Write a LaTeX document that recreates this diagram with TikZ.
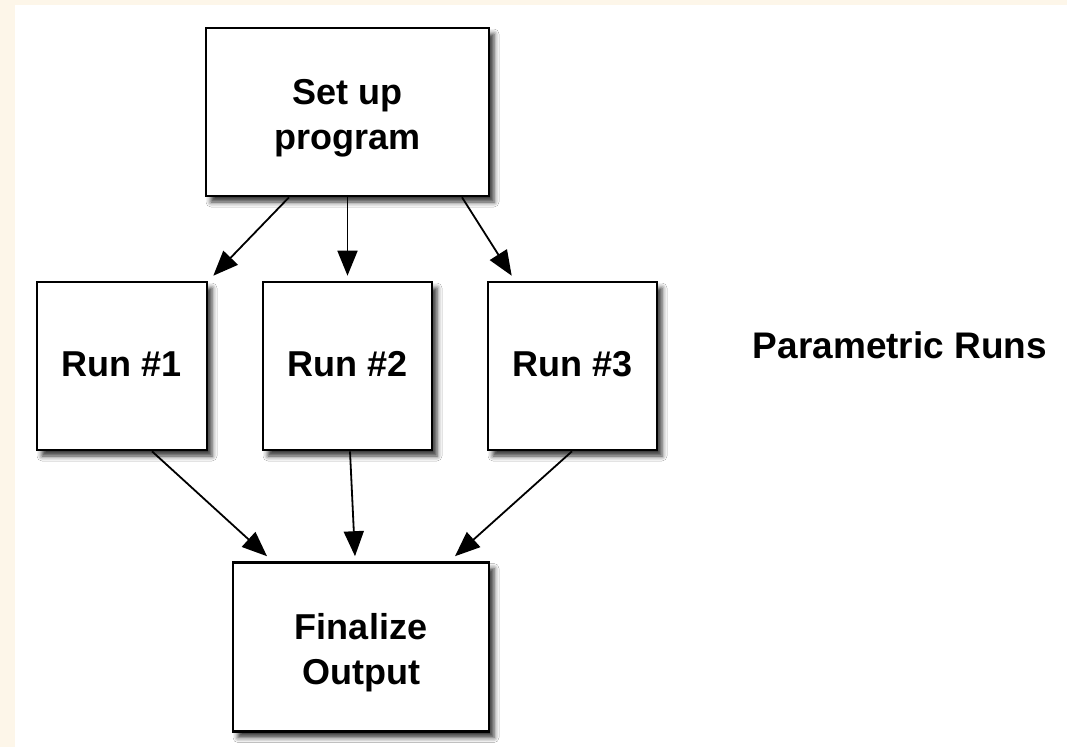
\documentclass[tikz,border=0pt]{standalone}
\usepackage{fontspec}
\setmainfont{Liberation Sans}
\usetikzlibrary{arrows.meta,shadows.blur}
\definecolor{bgbeige}{RGB}{253,246,233}
\tikzset{
  boxnode/.style={draw=black, line width=2.6pt, fill=white, inner sep=0pt,
    align=center, font=\bfseries\fontsize{36}{45}\selectfont,
    blur shadow={shadow xshift=5pt, shadow yshift=-6pt, shadow blur radius=5pt, shadow opacity=80}},
  twoline/.style={text height=82pt},
  oneline/.style={text height=26pt, text depth=6pt},
  flow/.style={line width=1.8pt, -{Triangle[length=25pt,width=20pt]}},
  plainlabel/.style={font=\bfseries\fontsize{37}{45}\selectfont, inner sep=0pt}
}
\begin{document}
\begin{tikzpicture}[x=1pt,y=-1pt]
\useasboundingbox (0,0) rectangle (1067,747);
\fill[bgbeige] (0,0) rectangle (1067,747);
\fill[white] (15,5) rectangle (1067,747);
\node[boxnode, twoline, minimum width=283pt, minimum height=168pt] (setup) at (347.5,112) {Set up\\program};
\node[boxnode, oneline, minimum width=170pt, minimum height=168pt] (run1) at (122,366) {Run \#1};
\node[boxnode, oneline, minimum width=169pt, minimum height=168pt] (run2) at (347.5,366) {Run \#2};
\node[boxnode, oneline, minimum width=169pt, minimum height=168pt] (run3) at (572.5,366) {Run \#3};
\node[boxnode, twoline, minimum width=256pt, minimum height=169pt] (final) at (361,647) {Finalize\\Output};
\node[plainlabel] (param) at (900,345) {Parametric Runs};
\draw[flow] ([xshift=-58.5pt]setup.south) -- ([xshift=5pt,yshift=5pt]run1.north east);
\draw[flow] (setup.south) -- ([yshift=5pt]run2.north);
\draw[flow] ([xshift=114.5pt]setup.south) -- ([xshift=25pt,yshift=5pt]run3.north west);
\draw[flow] ([xshift=30pt]run1.south) -- ([xshift=-94pt,yshift=5pt]final.north);
\draw[flow] ([xshift=2.5pt]run2.south) -- ([xshift=-6pt,yshift=5pt]final.north);
\draw[flow] ([xshift=-0.5pt]run3.south) -- ([xshift=94pt,yshift=5pt]final.north);
\end{tikzpicture}
\end{document}
